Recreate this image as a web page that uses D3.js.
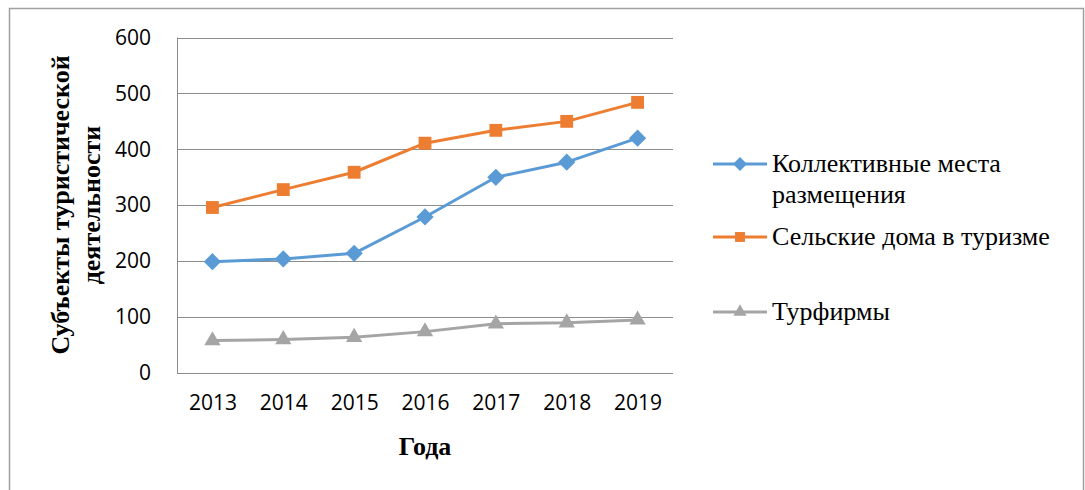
<!DOCTYPE html>
<html>
<head>
<meta charset="utf-8">
<script src="https://cdn.jsdelivr.net/npm/d3@7"></script>
<style>
  body { margin: 0; background: #fff; }
  svg { display: block; }
</style>
</head>
<body>
<svg id="chart" width="1085" height="490"></svg>
<script>
// chart data
const years = ["2013", "2014", "2015", "2016", "2017", "2018", "2019"];
const kollektivnye = [199, 204, 214, 279, 350, 377, 420];
const selskie = [296, 328, 359, 411, 434, 450, 484];
const turfirmy = [58, 60, 64, 74, 88, 90, 95];
const seriesNames = ["Коллективные места размещения", "Сельские дома в туризме", "Турфирмы"];
const yTicks = [0, 100, 200, 300, 400, 500, 600];

const series = [
  { name: seriesNames[0], values: kollektivnye, color: "#5b9bd5", symbol: d3.symbolDiamond2 },
  { name: seriesNames[1], values: selskie, color: "#ed7d31", symbol: d3.symbolSquare2 },
  { name: seriesNames[2], values: turfirmy, color: "#a5a5a5", symbol: d3.symbolTriangle2 }
];

const svg = d3.select("#chart");

// outer frame of the chart
svg.append("rect")
    .attr("x", 9.5).attr("y", 8.5)
    .attr("width", 1074).attr("height", 500)
    .attr("fill", "none")
    .attr("stroke", "#a0a0a0")
    .attr("stroke-width", 1.5);

const plot = { left: 177, right: 673, top: 37.5, bottom: 373 };

const x = d3.scalePoint()
    .domain(years)
    .range([plot.left, plot.right])
    .padding(0.5);

const y = d3.scaleLinear()
    .domain([0, 600])
    .range([plot.bottom, plot.top]);

// horizontal gridlines
svg.append("g")
    .selectAll("line")
    .data(yTicks.filter(t => t > 0))
    .join("line")
    .attr("x1", plot.left).attr("x2", plot.right)
    .attr("y1", d => Math.round(y(d)) + 0.5)
    .attr("y2", d => Math.round(y(d)) + 0.5)
    .attr("stroke", "#8c8c8c")
    .attr("stroke-width", 1);

// axis lines
svg.append("line")
    .attr("x1", plot.left + 0.5).attr("x2", plot.left + 0.5)
    .attr("y1", plot.top).attr("y2", plot.bottom + 0.5)
    .attr("stroke", "#8c8c8c");
svg.append("line")
    .attr("x1", plot.left).attr("x2", plot.right)
    .attr("y1", plot.bottom + 0.5).attr("y2", plot.bottom + 0.5)
    .attr("stroke", "#8c8c8c");

// y tick labels
const yAxis = d3.axisLeft(y).tickValues(yTicks).tickSize(0).tickPadding(26);
svg.append("g")
    .attr("transform", `translate(${plot.left},0)`)
    .call(yAxis)
    .call(g => g.select(".domain").remove())
    .selectAll("text")
    .attr("font-family", "'Open Sans', 'Liberation Sans', sans-serif")
    .attr("font-size", 21)
    .attr("fill", "#000");

// x tick labels
const xAxis = d3.axisBottom(x).tickSize(0).tickPadding(22);
svg.append("g")
    .attr("transform", `translate(0,${plot.bottom})`)
    .call(xAxis)
    .call(g => g.select(".domain").remove())
    .selectAll("text")
    .attr("font-family", "'Open Sans', 'Liberation Sans', sans-serif")
    .attr("font-size", 21)
    .attr("fill", "#000");

// lines and markers
const line = d3.line()
    .x((d, i) => x(years[i]))
    .y(d => y(d));

series.forEach(s => {
  svg.append("path")
      .datum(s.values)
      .attr("d", line)
      .attr("fill", "none")
      .attr("stroke", s.color)
      .attr("stroke-width", 3)
      .attr("stroke-linejoin", "round");

  svg.append("g")
      .selectAll("path")
      .data(s.values)
      .join("path")
      .attr("transform", (d, i) => `translate(${x(years[i])},${y(d)})`)
      .attr("d", d3.symbol().type(s.symbol).size(s.symbol === d3.symbolSquare2 ? 210 : 190))
      .attr("fill", s.color);
});

// axis titles
svg.append("text")
    .attr("x", 425).attr("y", 455)
    .attr("text-anchor", "middle")
    .attr("font-family", "'Liberation Serif', 'Times New Roman', serif")
    .attr("font-weight", "bold")
    .attr("font-size", 26)
    .text("Года");

const yTitle = svg.append("text")
    .attr("transform", "translate(0,205) rotate(-90)")
    .attr("text-anchor", "middle")
    .attr("font-family", "'Liberation Serif', 'Times New Roman', serif")
    .attr("font-weight", "bold")
    .attr("font-size", 26);
yTitle.append("tspan").attr("x", 0).attr("y", 69).text("Субъекты туристической");
yTitle.append("tspan").attr("x", 0).attr("y", 100).text("деятельности");

// legend
const legendRows = [
  { s: series[0], y: 164, lines: ["Коллективные места", "размещения"] },
  { s: series[1], y: 237, lines: ["Сельские дома в туризме"] },
  { s: series[2], y: 312, lines: ["Турфирмы"] }
];

const legend = svg.append("g");
legendRows.forEach(r => {
  legend.append("line")
      .attr("x1", 713).attr("x2", 767)
      .attr("y1", r.y).attr("y2", r.y)
      .attr("stroke", r.s.color)
      .attr("stroke-width", 3);
  legend.append("path")
      .attr("transform", `translate(740,${r.y})`)
      .attr("d", d3.symbol().type(r.s.symbol).size(125))
      .attr("fill", r.s.color);
  const t = legend.append("text")
      .attr("font-family", "'Liberation Serif', 'Times New Roman', serif")
      .attr("font-size", 26)
      .attr("fill", "#000");
  r.lines.forEach((l, i) => {
    t.append("tspan").attr("x", 772).attr("y", r.y + 8 + i * 31).text(l);
  });
});
</script>
</body>
</html>
